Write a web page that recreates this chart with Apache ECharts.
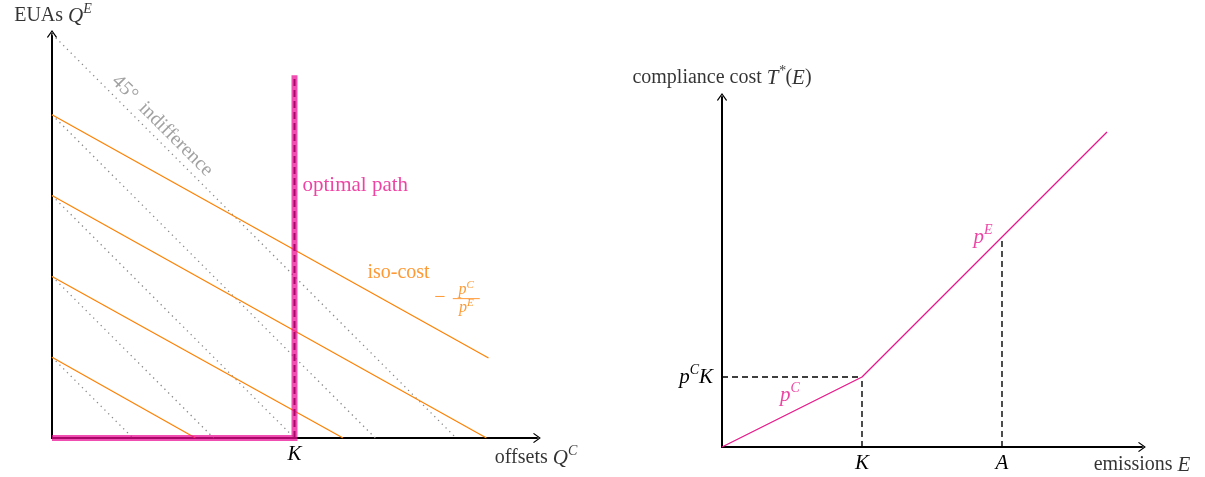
<!DOCTYPE html>
<html>
<head>
<meta charset="utf-8">
<script src="https://cdn.jsdelivr.net/npm/echarts@6/dist/echarts.min.js"></script>
<style>
  html, body { margin: 0; padding: 0; background: #fff; }
  #chart { width: 1205px; height: 477px; }
</style>
</head>
<body>
<div id="chart"></div>
<script>
  // left panel: EUAs vs offsets
  const leftXMax = 12
  const leftYMax = 10
  const K = 6
  const indiffIntercepts = [2, 4, 6, 8, 10]
  const isoCostStart = [[0, 2], [0, 4], [0, 6], [0, 8]]
  const isoCostEnd = [[3.55, 0], [7.2, 0], [10.75, 0], [10.8, 1.98]]
  const optimalPath = [[0, 0], [6, 0], [6, 8.98]]

  // right panel: compliance cost
  const rightXMax = 3
  const rightYMax = 2.5
  const costCurve = [[0, 0], [1, 0.5], [2.75, 2.25]]
  const rightTicks = [1, 2]
  const rightTickNames = ['K', 'A']
  const pCK = 0.5
  const costAtA = 1.5

  const serif = 'Liberation Serif'
  const black = '#000'
  const orange = '#ff8000'
  const magenta = '#e8158c'
  const grey = '#8a8a8a'

  const rich = {
    t: { fontFamily: serif, fontSize: 20 },
    m: { fontFamily: serif, fontSize: 21, fontStyle: 'italic' },
    s: { fontFamily: serif, fontSize: 14, fontStyle: 'italic', padding: [0, 0, 14, 0] }
  }

  function colored(c) {
    const r = {}
    Object.keys(rich).forEach(k => { r[k] = Object.assign({}, rich[k], { color: c }) })
    return r
  }

  const arrow = 'path://M0,0 L-5,7 L-4.2,7.8 L0,2 L4.2,7.8 L5,7 Z'

  function axisBase(max) {
    return {
      type: 'value', min: 0, max: max,
      splitLine: { show: false },
      axisTick: { show: false },
      axisLabel: { show: false },
      axisLine: {
        show: true, onZero: false,
        symbol: ['none', arrow], symbolSize: [10, 8],
        lineStyle: { color: black, width: 2 }
      }
    }
  }

  function seg(name, data, ax, style, z) {
    return {
      name: name, type: 'line', data: data, xAxisIndex: ax, yAxisIndex: ax,
      symbol: 'none', silent: true, animation: false, z: z || 2,
      lineStyle: style
    }
  }

  function note(ax, point, text, color, opt) {
    return {
      type: 'scatter', xAxisIndex: ax, yAxisIndex: ax, symbolSize: 0,
      silent: true, animation: false, z: 5,
      data: [point],
      label: Object.assign({
        show: true, position: 'inside', formatter: text,
        color: color, rich: colored(color)
      }, opt || {})
    }
  }

  const series = []

  indiffIntercepts.forEach(c => {
    series.push(seg('indiff', [[0, c], [c, 0]], 0, { color: grey, width: 1.3, type: [1.3, 4] }))
  })
  isoCostStart.forEach((p, i) => {
    series.push(seg('iso', [p, isoCostEnd[i]], 0, { color: orange, width: 1.2 }))
  })
  series.push(seg('Kline', [[K, 0], [K, optimalPath[2][1]]], 0, { color: black, width: 2, type: [7, 4] }, 3))
  series.push(seg('path', optimalPath, 0, { color: '#ec0a94', width: 6, opacity: 0.72, cap: 'butt', join: 'miter' }, 4))

  const dash = { color: black, width: 1.4, type: [6, 4] }
  series.push(seg('dashH', [[0, pCK], [rightTicks[0], pCK]], 1, dash))
  series.push(seg('dashK', [[rightTicks[0], 0], [rightTicks[0], pCK]], 1, dash))
  series.push(seg('dashA', [[rightTicks[1], 0], [rightTicks[1], costAtA]], 1, dash))
  series.push(seg('cost', costCurve, 1, { color: magenta, width: 1.3 }, 3))

  // texts
  series.push(note(0, [0, leftYMax], '{t|EUAs }{m|Q}{s|E}', black, { offset: [1, -18] }))
  series.push(note(0, [leftXMax, 0], '{t|offsets }{m|Q}{s|C}', black, { offset: [-1, 20] }))
  series.push(note(0, [2.5, 7.5], '{t|45°  indifference}', grey, { offset: [0, -13], rotate: -45 }))
  series.push(note(0, [K, 6.25], '{t|optimal path}', magenta, { position: 'right', distance: 8, rich: Object.assign(colored(magenta), { t: { fontFamily: serif, fontSize: 21, color: magenta } }) }))
  series.push(note(0, [8.5, 4.1], '{t|iso-cost}', orange, { offset: [3, 0] }))
  series.push(note(0, [9.6, 3.4], '{t|−}', orange, { offset: [0, -3] }))
  series.push(note(0, [10.25, 3.4], '{m|p}{s|C}\n{bar| }\n{m|p}{s|E}', orange, {
    offset: [0, -2], lineHeight: 15,
    rich: Object.assign(colored(orange), {
      m: { fontFamily: serif, fontSize: 16, fontStyle: 'italic', color: orange },
      s: { fontFamily: serif, fontSize: 11, fontStyle: 'italic', color: orange, padding: [0, 0, 10, 0] },
      bar: { width: 27, height: 1, lineHeight: 3, backgroundColor: orange }
    })
  }))

  series.push(note(1, [0, rightYMax], '{t|compliance cost }{m|T}{s|*}{t|(}{m|E}{t|)}', black, { offset: [0, -19] }))
  series.push(note(1, [rightXMax, 0], '{t|emissions }{m|E}', black, { offset: [0, 18] }))
  series.push(note(1, [0.5, 0.25], '{m|p}{s|C}', magenta, { offset: [-2, -17] }))
  series.push(note(1, [1.9, 1.4], '{m|p}{s|E}', magenta, { offset: [-5, -14] }))

  const leftX = axisBase(leftXMax)
  leftX.gridIndex = 0
  leftX.axisLabel = {
    show: true, customValues: [K], margin: 6,
    formatter: () => '{m|K}', rich: colored(black)
  }
  const leftY = axisBase(leftYMax)
  leftY.gridIndex = 0

  const rightX = axisBase(rightXMax)
  rightX.gridIndex = 1
  rightX.axisLabel = {
    show: true, customValues: rightTicks, margin: 6,
    formatter: v => '{m|' + rightTickNames[rightTicks.indexOf(v)] + '}', rich: colored(black)
  }
  const rightY = axisBase(rightYMax)
  rightY.gridIndex = 1
  rightY.axisLabel = {
    show: true, customValues: [pCK], margin: 9,
    formatter: () => '{m|p}{s|C}{m|K}', rich: colored(black)
  }

  const chart = echarts.init(document.getElementById('chart'), null, { renderer: 'canvas' })
  chart.setOption({
    animation: false,
    backgroundColor: '#fff',
    grid: [
      { left: 52, top: 34, width: 485, height: 404 },
      { left: 722, top: 97, width: 420, height: 350 }
    ],
    xAxis: [leftX, rightX],
    yAxis: [leftY, rightY],
    series: series
  })
</script>
</body>
</html>
